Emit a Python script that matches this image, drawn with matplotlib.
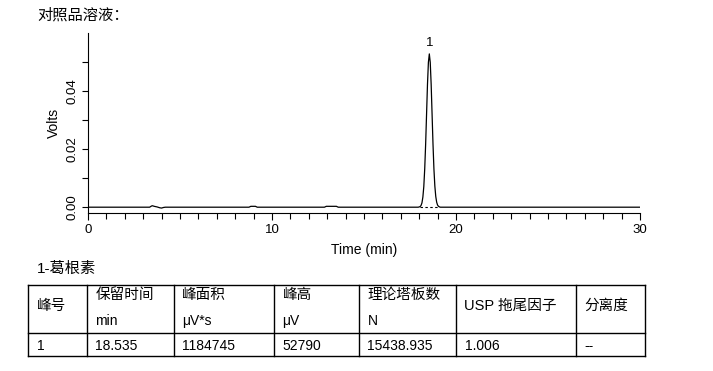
import matplotlib
matplotlib.use("Agg")
import matplotlib.pyplot as plt
from matplotlib.lines import Line2D

plt.rcParams['font.family'] = ['Liberation Sans', 'Noto Sans CJK SC', 'DejaVu Sans']

# ---------------- data ----------------
title_text = "对照品溶液："
compound_text = "1-葛根素"

# baseline trace with small disturbances (min, V)
base_time = [0.0, 3.35, 3.45, 3.5, 3.6, 3.75, 3.9, 4.0, 4.1, 4.2, 8.75, 8.85, 9.1, 9.2,
             12.85, 12.95, 13.5, 13.6, 17.95]
base_volts = [0.0, 0.0, 0.0004, 0.0005, 0.0003, 0.0001, -0.0002, -0.0003, -0.0001, 0.0,
              0.0, 0.0003, 0.0003, 0.0, 0.0, 0.0003, 0.0003, 0.0, 0.0]

peak_time = [18.00, 18.05, 18.10, 18.15, 18.20, 18.25, 18.30, 18.35, 18.40, 18.45, 18.50,
             18.55, 18.60, 18.65, 18.70, 18.75, 18.80, 18.85, 18.90, 18.95, 19.00, 19.05,
             19.10, 19.15]
peak_volts = [0.0001, 0.0002, 0.0006, 0.0015, 0.0035, 0.0071, 0.0132, 0.0217, 0.0320, 0.0423,
              0.0499, 0.0528, 0.0499, 0.0423, 0.0320, 0.0217, 0.0132, 0.0073, 0.0037, 0.0017,
              0.0007, 0.0003, 0.0001, 0.0]

tail_time = [19.2, 30.0]
tail_volts = [0.0, 0.0]

peak_label = "1"
peak_label_time = 18.55
peak_label_volts = 0.0528
peak_base_start = 18.02
peak_base_end = 19.08

x_major = [0, 10, 20, 30]
y_major = [0.00, 0.02, 0.04]
y_minor = [0.01, 0.03, 0.05]

table_header_top = ["峰号", "保留时间", "峰面积", "峰高", "理论塔板数", "USP 拖尾因子", "分离度"]
table_header_unit = ["", "min", "μV*s", "μV", "N", "", ""]
table_row = ["1", "18.535", "1184745", "52790", "15438.935", "1.006", "--"]

# ---------------- figure ----------------
W, H = 713, 371
fig = plt.figure(figsize=(W / 100, H / 100), dpi=100)
fig.patch.set_facecolor("white")

ax_l, ax_r, ax_t, ax_b = 88, 640, 33, 213
ax = fig.add_axes([ax_l / W, 1 - ax_b / H, (ax_r - ax_l) / W, (ax_b - ax_t) / H])

t = base_time + peak_time + tail_time
v = base_volts + peak_volts + tail_volts
ax.plot(t, v, color="black", lw=0.9, solid_joinstyle="round")
ax.plot([peak_base_start, peak_base_end], [0, 0], color="black", lw=0.8,
        linestyle=(0, (2.2, 2.2)))
ax.annotate(peak_label, (peak_label_time, peak_label_volts), xytext=(0, 6),
            textcoords="offset points", ha="center", va="baseline", fontsize=9.5)

ax.set_xlim(0, 30)
ax.set_ylim(-0.002, 0.06)
ax.set_xticks(x_major)
ax.set_xticks(range(0, 31), minor=True)
ax.set_yticks(y_major)
ax.set_yticklabels([f"{y:.2f}" for y in y_major], rotation=90, va="center")
ax.set_yticks(y_minor, minor=True)
for s in ["top", "right"]:
    ax.spines[s].set_visible(False)
for s in ["left", "bottom"]:
    ax.spines[s].set_linewidth(0.8)
ax.tick_params(axis="both", which="both", direction="out", width=0.8, labelsize=9.5, pad=3)
ax.tick_params(axis="x", which="major", length=5)
ax.tick_params(axis="x", which="minor", length=4)
ax.tick_params(axis="y", which="both", length=4)
ax.set_xlabel("Time (min)", fontsize=10, labelpad=5)
ax.set_ylabel("Volts", fontsize=10, labelpad=4)

# ---------------- overlay for title and table ----------------
ov = fig.add_axes([0, 0, 1, 1], facecolor="none")
ov.set_xlim(0, W)
ov.set_ylim(H, 0)
ov.axis("off")

ov.text(37, 15, title_text, fontsize=11, ha="left", va="center")
ov.text(37, 268.5, compound_text, fontsize=11, ha="left", va="center")

col_edges = [28, 87, 173.5, 274, 359, 456, 576, 644.5]
row_edges = [285, 332.5, 355.5]
lw = 1.0
for x in col_edges:
    ov.plot([x, x], [row_edges[0], row_edges[-1]], color="black", lw=lw)
for y in row_edges:
    ov.plot([col_edges[0], col_edges[-1]], [y, y], color="black", lw=lw)

pad = 8.5
for i, (top, unit, val) in enumerate(zip(table_header_top, table_header_unit, table_row)):
    x0 = col_edges[i] + pad
    if unit:
        ov.text(x0, 295, top, fontsize=10.5, ha="left", va="center")
        ov.text(x0, 325, unit, fontsize=10, ha="left", va="baseline")
    else:
        ov.text(x0, 306, top, fontsize=10.5, ha="left", va="center")
    ov.text(x0, 350, val, fontsize=10, ha="left", va="baseline")

fig.savefig("out.png", dpi=100)
